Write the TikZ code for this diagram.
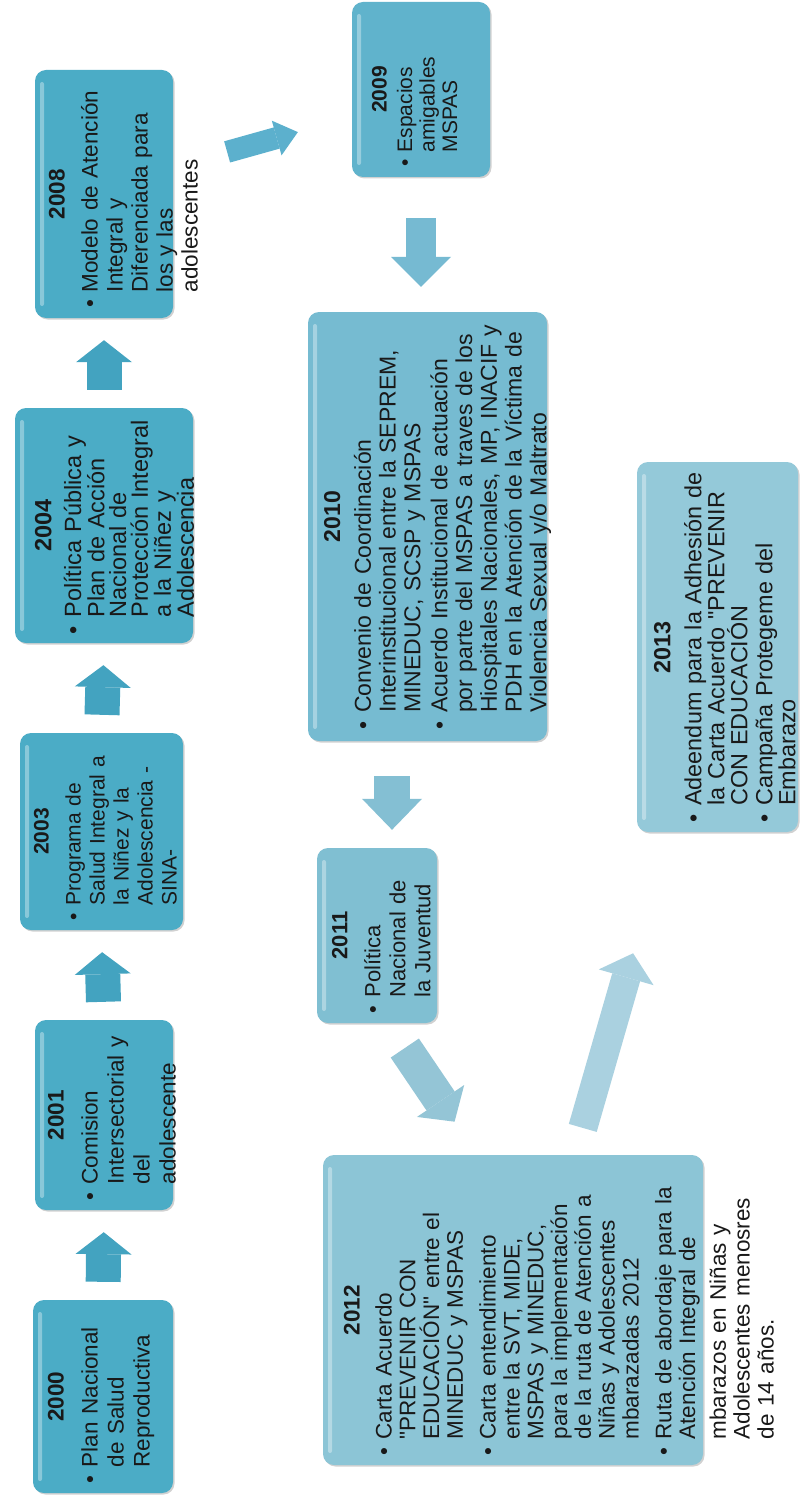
\documentclass[tikz,border=0pt]{standalone}
\usepackage{fontspec}
\setmainfont{Liberation Sans}[Ligatures=TeXOff]
\usetikzlibrary{arrows.meta, shadows}

\definecolor{boxA}{RGB}{75,172,198}
\definecolor{box09}{RGB}{96,179,204}
\definecolor{box10}{RGB}{118,187,209}
\definecolor{box11}{RGB}{128,191,210}
\definecolor{box12}{RGB}{140,197,214}
\definecolor{box13}{RGB}{148,201,217}
\definecolor{arrA}{RGB}{67,163,192}
\definecolor{arr0809}{RGB}{92,176,205}
\definecolor{arr0910}{RGB}{118,186,210}
\definecolor{arr1011}{RGB}{132,191,211}
\definecolor{arr1112}{RGB}{148,197,214}
\definecolor{arr1213}{RGB}{170,209,224}

\newlength\ttlgap \setlength\ttlgap{8pt}
\newlength\itmgap \setlength\itmgap{2pt}
\newcommand{\ttl}[1]{{\centering\bfseries #1\par}\vspace{\ttlgap}}
\newcommand{\itm}[1]{\par\hangindent=0.7em\hangafter=1\noindent\hbox to 0.7em{\textbullet\hss}#1\par\vspace{\itmgap}}

\begin{document}
\begin{tikzpicture}[x=1pt, y=-1pt,
    box/.style={rounded corners=11pt, inner sep=0pt, draw=none,
        drop shadow={shadow xshift=1.5pt, shadow yshift=-1.5pt, opacity=.18, fill=black},
        path picture={\fill[white, opacity=.35, rounded corners=2pt]
            ([xshift=5pt,yshift=-12pt]path picture bounding box.north west) rectangle
            ([xshift=9pt,yshift=12pt]path picture bounding box.south west);}},
    txt/.style={rotate=90, anchor=north west, align=left, inner sep=0pt, text=black!90},
    barrow/.style n args={4}{draw=#1, line width=#2pt,
        -{Triangle[width=#3pt, length=#4pt, line width=0pt]}},
    uparrow/.style={barrow={arrA}{35}{56}{22}, shorten <=18pt, shorten >=22pt}]
\useasboundingbox[fill=white] (0,0) rectangle (806,1503);

% left column
\node[box, fill=boxA, minimum width=140pt, minimum height=193pt] (b2000) at (103,1396.5) {};
\node[box, fill=boxA, minimum width=138pt, minimum height=190pt] (b2001) at (104,1115) {};
\node[box, fill=boxA, minimum width=163pt, minimum height=197pt] (b2003) at (101.5,831.5) {};
\node[box, fill=boxA, minimum width=178pt, minimum height=235pt] (b2004) at (104,525.5) {};
\node[box, fill=boxA, minimum width=138pt, minimum height=248pt] (b2008) at (104,194) {};
% right side
\node[box, fill=box09, minimum width=138pt, minimum height=175pt] (b2009) at (421,89.5) {};
\node[box, fill=box10, minimum width=239pt, minimum height=429pt] (b2010) at (427.5,526.5) {};
\node[box, fill=box11, minimum width=120pt, minimum height=175pt] (b2011) at (377,935.5) {};
\node[box, fill=box12, minimum width=380pt, minimum height=310pt] (b2012) at (513,1310) {};
\node[box, fill=box13, minimum width=161pt, minimum height=370pt] (b2013) at (717.5,647) {};

\foreach \a/\b in {b2000/b2001, b2001/b2003, b2003/b2004, b2004/b2008}
    \draw[uparrow] (\a.north) -- (\b.south);
\draw[barrow={arr0809}{22}{36}{22}, shorten <=56pt, shorten >=56pt]
    ([yshift=27pt]b2008.east) -- ([yshift=-27.5pt]b2009.west);
\draw[barrow={arr0910}{30}{60}{30}, shorten <=41pt, shorten >=25pt]
    (b2009.south) -- (b2009.south |- b2010.north);
\draw[barrow={arr1011}{36}{60}{31}, shorten <=35pt, shorten >=18pt]
    ([xshift=15pt]b2011.north |- b2010.south) -- ([xshift=15pt]b2011.north);
\draw[barrow={arr1112}{34}{57}{25}, shorten <=30pt, shorten >=40pt]
    ([xshift=11pt]b2011.south) -- ([xshift=-36pt]b2012.north);
\draw[barrow={arr1213}{29}{57}{25}, shorten <=28pt, shorten >=126pt]
    ([xshift=62pt]b2012.north) -- ([xshift=-49.5pt]b2013.south);

\node[txt, text width=173pt, font={\fontsize{22.5pt}{26pt}\selectfont}] (t2000)
    at ([xshift=15pt,yshift=10pt]b2000.south west)
    {\ttl{2000}\itm{Plan Nacional\newline de Salud\newline Reproductiva}};
\node[txt, text width=170pt, font={\fontsize{22.5pt}{26pt}\selectfont}] (t2001)
    at ([xshift=13pt,yshift=10pt]b2001.south west)
    {\ttl{2001}\itm{Comision\newline Intersectorial y\newline del\newline adolescente}};
\node[txt, text width=177pt, font={\fontsize{21pt}{24pt}\selectfont}] (t2003)
    at ([xshift=14pt,yshift=10pt]b2003.south west)
    {\ttl{2003}\itm{Programa de\newline Salud Integral a\newline la Niñez y la\newline Adolescencia -\newline SINA-}};
\node[txt, text width=217pt, font={\fontsize{23.5pt}{21.8pt}\selectfont}] (t2004)
    at ([xshift=20pt,yshift=9pt]b2004.south west)
    {\ttl{2004}\itm{Política Pública y\newline Plan de Acción\newline Nacional de\newline Protección Integral\newline a la Niñez y\newline Adolescencia}};
\node[txt, text width=228pt, font={\fontsize{22.5pt}{25pt}\selectfont}] (t2008)
    at ([xshift=14pt,yshift=10pt]b2008.south west)
    {\ttl{2008}\itm{Modelo de  Atención\newline Integral y\newline Diferenciada para\newline los y las\newline adolescentes}};
\node[txt, text width=155pt, font={\fontsize{21pt}{22.5pt}\selectfont\setlength\ttlgap{3pt}}] (t2009)
    at ([xshift=20pt,yshift=10pt]b2009.south west)
    {\ttl{2009}\itm{Espacios\newline amigables\newline MSPAS}};
\node[txt, text width=425pt, font={\fontsize{23pt}{24.8pt}\selectfont\setlength\ttlgap{6pt}}] (t2010)
    at ([xshift=16pt,yshift=12pt]b2010.south west)
    {\ttl{2010}\itm{Convenio de Coordinación\newline Interinstitucional entre la SEPREM,\newline MINEDUC, SCSP y MSPAS}%
     \itm{Acuerdo Institucional de actuación\newline por parte del MSPAS a traves de los\newline Hiospitales Nacionales, MP, INACIF y\newline PDH en la Atención de la Víctima de\newline Violencia Sexual y/o Maltrato}};
\node[txt, text width=155pt, font={\fontsize{22pt}{25pt}\selectfont}] (t2011)
    at ([xshift=15pt,yshift=10pt]b2011.south west)
    {\ttl{2011}\itm{Política\newline Nacional de\newline la Juventud}};
\node[txt, text width=290pt, font={\fontsize{22.5pt}{23.8pt}\selectfont\setlength\itmgap{9pt}}] (t2012)
    at ([xshift=21pt,yshift=10pt]b2012.south west)
    {\ttl{2012}\itm{Carta Acuerdo\newline "PREVENIR CON\newline EDUCACIÓN" entre el\newline MINEDUC y MSPAS}%
     \itm{Carta entendimiento\newline entre la SVT, MIDE,\newline MSPAS y MINEDUC,\newline para la implementación\newline de la ruta de Atención a\newline Niñas y Adolescentes\newline mbarazadas 2012}%
     \itm{Ruta de abordaje para la\newline Atención Integral de\vadjust{\vskip7pt}\newline mbarazos en Niñas y\newline Adolescentes menosres\newline de 14 años.}};
\node[txt, text width=350pt, font={\fontsize{23.4pt}{23pt}\selectfont}] (t2013)
    at ([xshift=17pt,yshift=10pt]b2013.south west)
    {\ttl{2013}\itm{Adeendum para la Adhesión de\newline la Carta Acuerdo "PREVENIR\newline CON EDUCACIÓN}%
     \itm{Campaña Protegeme del\newline Embarazo}};
\end{tikzpicture}
\end{document}
